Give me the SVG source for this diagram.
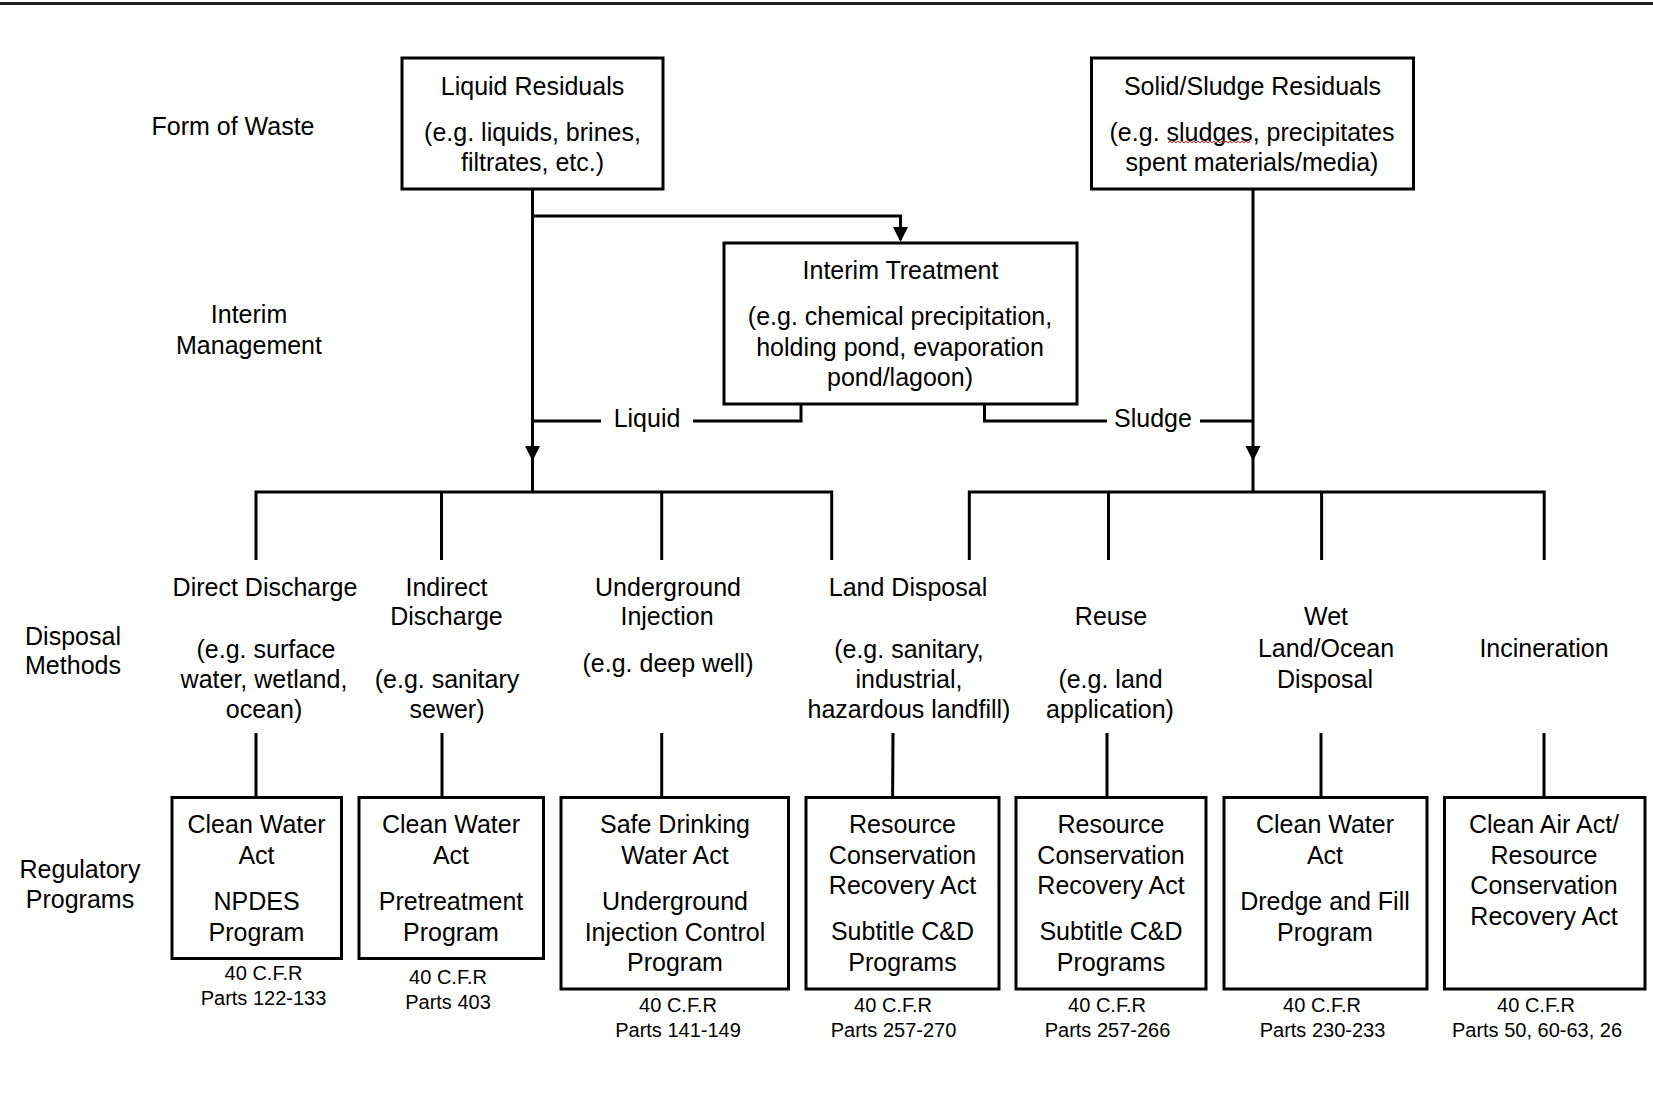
<svg xmlns="http://www.w3.org/2000/svg" width="1653" height="1096" viewBox="0 0 1653 1096">
<style>
text{font-family:"Liberation Sans",Arial,sans-serif;font-size:25px;fill:#000;text-anchor:middle}
.s{font-size:20px}
.box{fill:#fff;stroke:#000;stroke-width:3}
.ln{fill:none;stroke:#000;stroke-width:3}
</style>
<defs>
<marker id="ah" markerWidth="14" markerHeight="14" viewBox="0 0 14 14" refX="7" refY="14" orient="auto-start-reverse" markerUnits="userSpaceOnUse">
<path d="M0,0 L14,0 L7,14 Z" fill="#000"/>
</marker>
</defs>
<rect width="1653" height="1096" fill="#fff"/>
<line x1="0" y1="3.5" x2="1653" y2="3.5" stroke="#222" stroke-width="3"/>

<g id="row-labels">
<text x="233" y="135">Form of Waste</text>
<text x="249" y="323">Interim</text>
<text x="249" y="354">Management</text>
<text x="73" y="645">Disposal</text>
<text x="73" y="674">Methods</text>
<text x="80" y="878">Regulatory</text>
<text x="80" y="908">Programs</text>
</g>

<g id="connectors">
<path class="ln" d="M532.5,189 V459"/>
<path class="ln" d="M532.5,459 V492"/>
<path class="ln" d="M532.5,216 H900.5 V240"/>
<path d="M525,446 L540,446 L532.5,461 Z" fill="#000"/>
<path d="M893,227 L908,227 L900.5,242 Z" fill="#000"/>
<path class="ln" d="M532.5,421 H601"/>
<path class="ln" d="M693,421 H801 V404"/>
<path class="ln" d="M984.5,404 V421 H1107"/>
<path class="ln" d="M1200,421 H1253"/>
<path class="ln" d="M1253,189 V492"/>
<path d="M1245.5,446 L1260.5,446 L1253,461 Z" fill="#000"/>
<path class="ln" d="M256,560 V492 H831.7 V560"/>
<path class="ln" d="M441.5,492 V560"/>
<path class="ln" d="M661.7,492 V560"/>
<path class="ln" d="M969.3,560 V492 H1544.2 V560"/>
<path class="ln" d="M1108.5,492 V560"/>
<path class="ln" d="M1321.6,492 V560"/>
<path class="ln" d="M256,733 V797"/>
<path class="ln" d="M442,733 V797"/>
<path class="ln" d="M661.7,733 V797"/>
<path class="ln" d="M893,733 L892.6,797"/>
<path class="ln" d="M1107,733 V797"/>
<path class="ln" d="M1321,733 V797"/>
<path class="ln" d="M1544,733 V797"/>
<text x="647" y="427">Liquid</text>
<text x="1153" y="427">Sludge</text>
</g>

<g id="liquid-residuals">
<rect class="box" x="402" y="58" width="261" height="131"/>
<text x="532.5" y="95">Liquid Residuals</text>
<text x="532.5" y="141">(e.g. liquids, brines,</text>
<text x="532.5" y="171">filtrates, etc.)</text>
</g>

<g id="solid-residuals">
<rect class="box" x="1091.5" y="58" width="322" height="131"/>
<text x="1252.5" y="95">Solid/Sludge Residuals</text>
<text x="1252" y="141">(e.g. sludges, precipitates</text>
<text x="1252" y="171">spent materials/media)</text>
<path d="M1168,143 l2,-2 l2,2 l2,-2 l2,2 l2,-2 l2,2 l2,-2 l2,2 l2,-2 l2,2 l2,-2 l2,2 l2,-2 l2,2 l2,-2 l2,2 l2,-2 l2,2 l2,-2 l2,2 l2,-2 l2,2 l2,-2 l2,2 l2,-2 l2,2 l2,-2 l2,2 l2,-2 l2,2 l2,-2 l2,2 l2,-2 l2,2 l2,-2 l2,2 l2,-2 l2,2 l2,-2 l2,2 l2,-2" fill="none" stroke="#e02020" stroke-width="1"/>
</g>

<g id="interim-treatment">
<rect class="box" x="724" y="243" width="353" height="161"/>
<text x="900.5" y="279">Interim Treatment</text>
<text x="900" y="325">(e.g. chemical precipitation,</text>
<text x="900" y="355.5">holding pond, evaporation</text>
<text x="900" y="386">pond/lagoon)</text>
</g>

<g id="direct-discharge">
<text x="265" y="596">Direct Discharge</text>
<text x="266" y="658">(e.g. surface</text>
<text x="264" y="688">water, wetland,</text>
<text x="264" y="718">ocean)</text>
</g>
<g id="indirect-discharge">
<text x="446.5" y="596">Indirect</text>
<text x="446.5" y="625">Discharge</text>
<text x="447" y="688">(e.g. sanitary</text>
<text x="447" y="718">sewer)</text>
</g>
<g id="underground-injection">
<text x="668" y="596">Underground</text>
<text x="667" y="625">Injection</text>
<text x="668" y="672">(e.g. deep well)</text>
</g>
<g id="land-disposal">
<text x="908" y="596">Land Disposal</text>
<text x="909" y="658">(e.g. sanitary,</text>
<text x="909" y="688">industrial,</text>
<text x="909" y="718">hazardous landfill)</text>
</g>
<g id="reuse">
<text x="1111" y="625">Reuse</text>
<text x="1110.5" y="688">(e.g. land</text>
<text x="1110" y="718">application)</text>
</g>
<g id="wet-land-ocean">
<text x="1326" y="625">Wet</text>
<text x="1326" y="657">Land/Ocean</text>
<text x="1325" y="688">Disposal</text>
</g>
<g id="incineration">
<text x="1544" y="657">Incineration</text>
</g>

<g id="cwa-npdes">
<rect class="box" x="172" y="797.5" width="169.5" height="161"/>
<text x="256.5" y="833">Clean Water</text>
<text x="256.5" y="864">Act</text>
<text x="256.5" y="910">NPDES</text>
<text x="256.5" y="941">Program</text>
<text class="s" x="263.5" y="980">40 C.F.R</text>
<text class="s" x="263.5" y="1005">Parts 122-133</text>
</g>
<g id="cwa-pretreatment">
<rect class="box" x="359" y="797.5" width="184.5" height="161"/>
<text x="451" y="833">Clean Water</text>
<text x="451" y="864">Act</text>
<text x="451" y="910">Pretreatment</text>
<text x="451" y="941">Program</text>
<text class="s" x="448" y="984">40 C.F.R</text>
<text class="s" x="448" y="1009">Parts 403</text>
</g>
<g id="sdwa-uic">
<rect class="box" x="561" y="797.5" width="227.5" height="191.5"/>
<text x="675" y="833">Safe Drinking</text>
<text x="675" y="864">Water Act</text>
<text x="675" y="910">Underground</text>
<text x="675" y="941">Injection Control</text>
<text x="675" y="971">Program</text>
<text class="s" x="678" y="1012">40 C.F.R</text>
<text class="s" x="678" y="1037">Parts 141-149</text>
</g>
<g id="rcra-land">
<rect class="box" x="806" y="797.5" width="193" height="191.5"/>
<text x="902.5" y="833">Resource</text>
<text x="902.5" y="864">Conservation</text>
<text x="902.5" y="894">Recovery Act</text>
<text x="902.5" y="940">Subtitle C&amp;D</text>
<text x="902.5" y="971">Programs</text>
<text class="s" x="893" y="1012">40 C.F.R</text>
<text class="s" x="893.5" y="1037">Parts 257-270</text>
</g>
<g id="rcra-reuse">
<rect class="box" x="1016" y="797.5" width="190" height="191.5"/>
<text x="1111" y="833">Resource</text>
<text x="1111" y="864">Conservation</text>
<text x="1111" y="894">Recovery Act</text>
<text x="1111" y="940">Subtitle C&amp;D</text>
<text x="1111" y="971">Programs</text>
<text class="s" x="1107" y="1012">40 C.F.R</text>
<text class="s" x="1107.5" y="1037">Parts 257-266</text>
</g>
<g id="cwa-dredge">
<rect class="box" x="1224" y="797.5" width="203" height="191.5"/>
<text x="1325" y="833">Clean Water</text>
<text x="1325" y="864">Act</text>
<text x="1325" y="910">Dredge and Fill</text>
<text x="1325" y="941">Program</text>
<text class="s" x="1322" y="1012">40 C.F.R</text>
<text class="s" x="1322.5" y="1037">Parts 230-233</text>
</g>
<g id="caa-rcra">
<rect class="box" x="1444.5" y="797.5" width="200.5" height="191.5"/>
<text x="1544" y="833">Clean Air Act/</text>
<text x="1544" y="864">Resource</text>
<text x="1544" y="894">Conservation</text>
<text x="1544" y="925">Recovery Act</text>
<text class="s" x="1536" y="1012">40 C.F.R</text>
<text class="s" x="1537" y="1037">Parts 50, 60-63, 26</text>
</g>
</svg>
